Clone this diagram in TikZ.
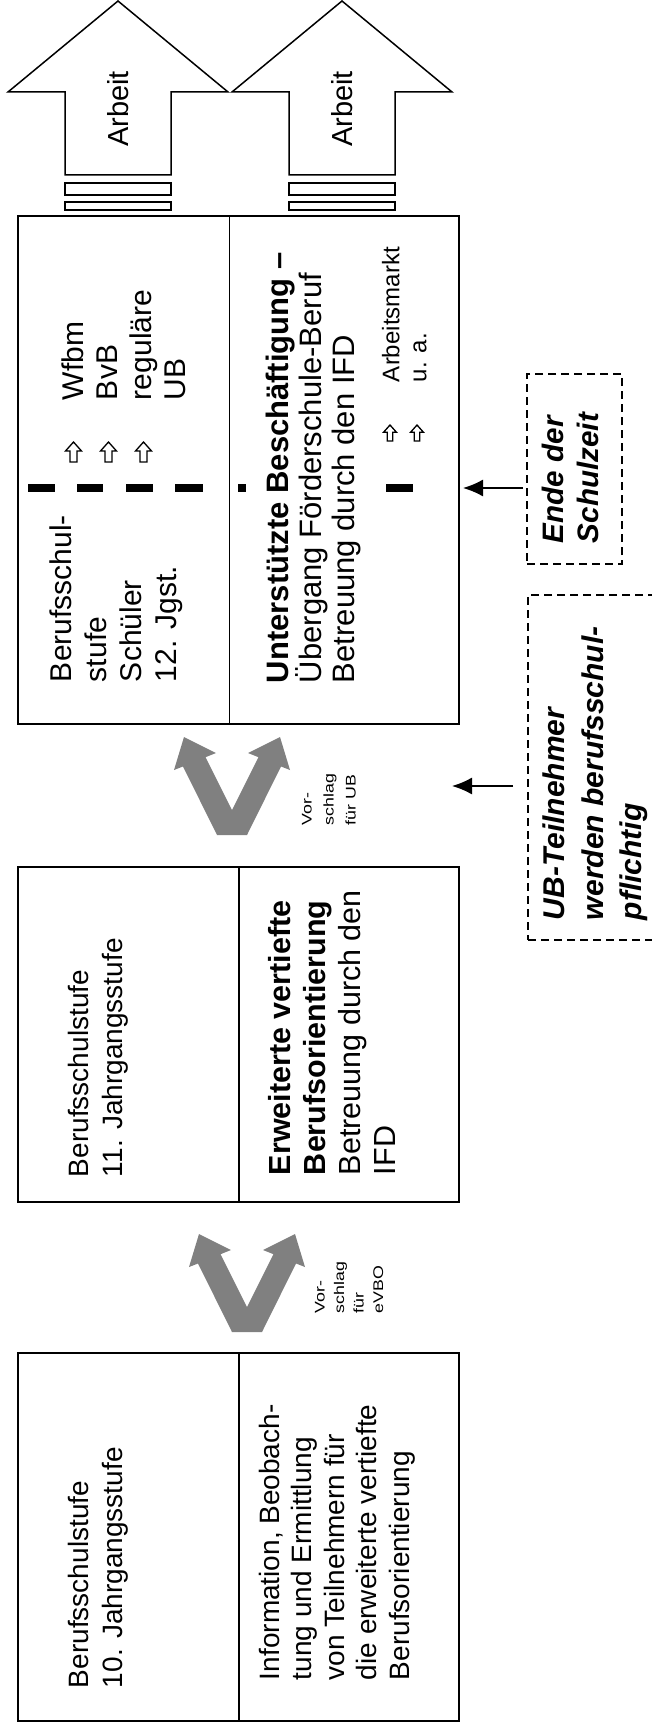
\documentclass[tikz,border=0pt]{standalone}
\usepackage{fontspec}
\setmainfont{Liberation Sans}
\usetikzlibrary{arrows.meta}
\definecolor{vgray}{RGB}{128,128,128}
\tikzset{
  boxn/.style={draw, line width=1.6pt, inner sep=0pt, outer sep=0pt},
  dbox/.style={draw, dash pattern=on 8pt off 5pt, line width=1.3pt, inner sep=0pt, outer sep=0pt},
  rt/.style={rotate=90, anchor=north west, inner sep=0pt, outer sep=0pt, align=left},
  outl/.style={draw, line width=1.5pt, line join=miter},
  arr/.style={line width=1.6pt, -{Latex[length=20pt,width=17pt]}},
  thickdash/.style={fill=black},
  arbeit/.pic={
    \draw[outl] (-53,175) -- (-53,92) -- (-110,92) -- (0,1) -- (110,92) -- (53,92) -- (53,175) -- cycle;
    \draw[outl] (-53,183) rectangle (53,195);
    \draw[outl] (-53,202) rectangle (53,210);
    \node[rotate=90, inner sep=0pt, font=\fontsize{29}{33}\selectfont] (-txt) at (0,109) {Arbeit};
  },
  vshape/.pic={
    \fill[vgray] (-15,0) -- (15,0) -- (49,-68.5) -- (58,-65) -- (48,-98) -- (16,-82) -- (26.4,-77.8)
      -- (0,-25) -- (-26.4,-77.8) -- (-16,-82) -- (-48,-98) -- (-58,-65) -- (-49,-68.5) -- cycle;
  },
  uparr/.pic={
    \draw[line width=1.3pt, line join=miter] (0,-10) -- (8,-1) -- (3.5,-1) -- (3.5,10) -- (-3.5,10) -- (-3.5,-1) -- (-8,-1) -- cycle;
  }
}
\begin{document}
\begin{tikzpicture}[x=1pt,y=-1pt]
\useasboundingbox (0,0) rectangle (651,1731);

% Arbeit arrows
\pic (a1) at (118,0) {arbeit};
\pic (a2) at (342,0) {arbeit};

% main boxes
\node[boxn, minimum width=211.5pt, minimum height=508pt] (b3l) at (123.75,470) {};
\node[boxn, minimum width=229.5pt, minimum height=508pt] (b3r) at (344.25,470) {};
\node[boxn, minimum width=220.7pt, minimum height=335pt] (b2l) at (128.35,1034.5) {};
\node[boxn, minimum width=220.3pt, minimum height=335pt] (b2r) at (348.85,1034.5) {};
\node[boxn, minimum width=220.7pt, minimum height=368pt] (b1l) at (128.35,1537) {};
\node[boxn, minimum width=220.3pt, minimum height=368pt] (b1r) at (348.85,1537) {};

% V arrows
\pic at (232,835) {vshape};
\pic at (247,1332) {vshape};

% dashed boxes
\node[dbox, minimum width=95pt, minimum height=190pt] (ende) at (574.5,469) {};
\node[dbox, minimum width=132pt, minimum height=345pt] (ubt) at (594,767.5) {};

% connectors
\draw[arr, shorten <=4pt, shorten >=4pt] ([yshift=-19pt]ende.west) -- ([yshift=-19pt]ende.west -| b3r.east);
\coordinate (t2) at (452,786);
\draw[arr] ([xshift=-15pt]ubt.west |- t2) -- (t2);

% thick dashes
\fill[thickdash] (28,484) rectangle (55,492);
\fill[thickdash] (77,484) rectangle (103,492);
\fill[thickdash] (126,484) rectangle (153,492);
\fill[thickdash] (175,484) rectangle (203,492);
\fill[thickdash] (238,484) rectangle (246,492);
\fill[thickdash] (386,484) rectangle (413,492);

% small up arrows
\pic at (73.5,452) {uparr};
\pic at (108.5,452) {uparr};
\pic at (143.5,452) {uparr};
\pic[scale=0.8] at (390,433) {uparr};
\pic[scale=0.8] at (417,433) {uparr};

% texts
\node[rt, font=\fontsize{28}{33.5}\selectfont] (t1l) at (68.5,1688) {Berufsschulstufe\\10. Jahrgangsstufe};
\node[rt, font=\fontsize{28}{32.5}\selectfont] (t1r) at (259,1680) {Information, Beobach-\\tung und Ermittlung\\von Teilnehmern für\\die erweiterte vertiefte\\Berufsorientierung};
\node[rt, font=\fontsize{28}{33.5}\selectfont] (t2l) at (68.5,1177) {Berufsschulstufe\\11. Jahrgangsstufe};
\node[rt, font=\fontsize{30.5}{35}\selectfont] (t2r) at (268,1175) {\textbf{Erweiterte vertiefte}\\\textbf{Berufsorientierung}\\Betreuung durch den\\IFD};
\node[rt, font=\fontsize{30}{35}\selectfont] (t3l) at (50,682) {Berufsschul-\\stufe\\Schüler\\12. Jgst.};
\node[rt, font=\fontsize{31}{33}\selectfont] (t3r) at (266,683) {\textbf{Unterstützte Beschäftigung –}\\Übergang Förderschule-Beruf\\Betreuung durch den IFD};
\node[rt, font=\fontsize{30}{34}\selectfont] (t3w) at (62,400) {Wfbm\\BvB\\reguläre\\UB};
\node[rt, font=\fontsize{24}{27}\selectfont] (t3a) at (382,382) {Arbeitsmarkt\\u. a.};
\node[rt, font=\fontsize{29.6}{35}\selectfont\bfseries\itshape] (tende) at (542,543) {Ende der\\Schulzeit};
\node[rt, font=\fontsize{30}{38.5}\selectfont\bfseries\itshape] (tubt) at (543,920) {UB-Teilnehmer\\werden berufsschul-\\pflichtig};
\node[rt, xscale=1.27, font=\fontsize{14}{22}\selectfont] (tv1) at (302,825) {Vor-\\schlag\\für UB};
\node[rt, xscale=1.27, font=\fontsize{14}{19.5}\selectfont] (tv2) at (315,1313) {Vor-\\schlag\\für\\eVBO};
\end{tikzpicture}
\end{document}
